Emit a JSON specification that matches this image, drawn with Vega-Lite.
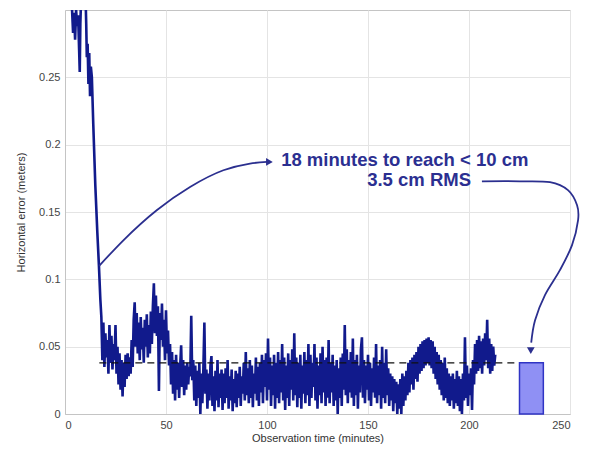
{
  "$schema": "https://vega.github.io/schema/vega-lite/v6.json",
  "autosize": "none",
  "width": 505,
  "height": 404,
  "padding": {"left": 65, "top": 10, "right": 24, "bottom": 38},
  "background": "white",
  "config": {
    "view": {"stroke": "#c4c4c4", "strokeWidth": 1},
    "font": "Liberation Sans",
    "axis": {
      "labelFont": "Liberation Sans",
      "titleFont": "Liberation Sans",
      "labelFontSize": 11,
      "titleFontSize": 11,
      "titleFontWeight": "normal",
      "labelColor": "#444444",
      "titleColor": "#333333",
      "gridColor": "#e4e4e4",
      "domainColor": "#c4c4c4",
      "ticks": false
    }
  },
  "datasets": {
    "noise": [
      {"t":3.5,"e":0.300},{"t":4,"e":0.283},{"t":4.5,"e":0.298},{"t":5,"e":0.278},{"t":5.5,"e":0.300},{"t":6,"e":0.288},{"t":6.5,"e":0.296},{"t":7,"e":0.270},{"t":7.3,"e":0.254},{"t":7.6,"e":0.290},{"t":8,"e":0.310},{"t":9,"e":0.330},{"t":10,"e":0.320},{"t":10.5,"e":0.290},{"t":10.8,"e":0.265},{"t":11.2,"e":0.275},{"t":11.6,"e":0.245},{"t":12,"e":0.268},{"t":12.4,"e":0.236},{"t":12.8,"e":0.258},{"t":13.3,"e":0.250},{"t":14,"e":0.215},{"t":15,"e":0.170},{"t":16,"e":0.135},{"t":16.8,"e":0.110},{"t":17.5,"e":0.085},
      {"t":18,"e":0.072},{"t":18.5,"e":0.040},{"t":19,"e":0.068},{"t":19.5,"e":0.035},{"t":20,"e":0.060},{"t":20.5,"e":0.042},{"t":21,"e":0.055},{"t":21.5,"e":0.030},{"t":22,"e":0.066},{"t":22.5,"e":0.038},{"t":23,"e":0.058},{"t":23.5,"e":0.033},{"t":24,"e":0.052},{"t":24.5,"e":0.040},{"t":25,"e":0.066},{"t":25.5,"e":0.030},{"t":26,"e":0.050},{"t":26.5,"e":0.022},{"t":27,"e":0.045},{"t":27.5,"e":0.018},{"t":28,"e":0.040},{"t":28.5,"e":0.013},{"t":29,"e":0.038},{"t":29.5,"e":0.020},
      {"t":30,"e":0.044},{"t":30.5,"e":0.026},{"t":31,"e":0.045},{"t":31.5,"e":0.028},{"t":32,"e":0.042},{"t":32.5,"e":0.030},{"t":33,"e":0.055},{"t":33.5,"e":0.035},{"t":34,"e":0.070},{"t":34.5,"e":0.083},{"t":35,"e":0.050},{"t":35.5,"e":0.075},{"t":36,"e":0.045},{"t":36.5,"e":0.068},{"t":37,"e":0.040},{"t":37.5,"e":0.072},{"t":38,"e":0.048},{"t":38.5,"e":0.064},{"t":39,"e":0.038},{"t":39.5,"e":0.070},
      {"t":40,"e":0.050},{"t":40.5,"e":0.074},{"t":41,"e":0.042},{"t":41.5,"e":0.066},{"t":42,"e":0.045},{"t":42.5,"e":0.076},{"t":43,"e":0.052},{"t":43.5,"e":0.080},{"t":44,"e":0.097},{"t":44.5,"e":0.060},{"t":45,"e":0.088},{"t":45.5,"e":0.058},{"t":46,"e":0.080},{"t":46.5,"e":0.017},{"t":47,"e":0.075},{"t":47.5,"e":0.055},{"t":48,"e":0.082},{"t":48.5,"e":0.050},{"t":49,"e":0.070},{"t":49.5,"e":0.040},
      {"t":50,"e":0.077},{"t":50.5,"e":0.045},{"t":51,"e":0.062},{"t":51.5,"e":0.036},{"t":52,"e":0.052},{"t":52.5,"e":0.022},{"t":53,"e":0.046},{"t":53.5,"e":0.015},{"t":54,"e":0.040},{"t":54.5,"e":0.010},{"t":55,"e":0.044},{"t":55.5,"e":0.018},{"t":56,"e":0.038},{"t":56.5,"e":0.012},{"t":57,"e":0.035},{"t":57.5,"e":0.051},{"t":58,"e":0.020},{"t":58.5,"e":0.040},{"t":59,"e":0.014},{"t":59.5,"e":0.036},
      {"t":60,"e":0.018},{"t":60.5,"e":0.038},{"t":61,"e":0.022},{"t":61.5,"e":0.035},{"t":62,"e":0.028},{"t":62.5,"e":0.073},{"t":63,"e":0.025},{"t":63.5,"e":0.040},{"t":64,"e":0.010},{"t":64.5,"e":0.036},{"t":65,"e":0.006},{"t":65.5,"e":0.032},{"t":66,"e":0.012},{"t":66.5,"e":0.038},{"t":67,"e":0.000},{"t":67.5,"e":0.030},{"t":68,"e":0.008},{"t":68.5,"e":0.034},{"t":69,"e":0.068},{"t":69.5,"e":0.015},
      {"t":70,"e":0.033},{"t":70.5,"e":0.004},{"t":71,"e":0.030},{"t":71.5,"e":0.010},{"t":72,"e":0.036},{"t":72.5,"e":0.043},{"t":73,"e":0.006},{"t":73.5,"e":0.028},{"t":74,"e":0.002},{"t":74.5,"e":0.032},{"t":75,"e":0.010},{"t":75.5,"e":0.040},{"t":76,"e":0.005},{"t":76.5,"e":0.030},{"t":77,"e":0.012},{"t":77.5,"e":0.033},{"t":78,"e":0.003},{"t":78.5,"e":0.030},{"t":79,"e":0.008},{"t":79.5,"e":0.034},
      {"t":80,"e":0.012},{"t":80.5,"e":0.040},{"t":81,"e":0.004},{"t":81.5,"e":0.028},{"t":82,"e":0.010},{"t":82.5,"e":0.033},{"t":83,"e":0.002},{"t":83.5,"e":0.026},{"t":84,"e":0.008},{"t":84.5,"e":0.032},{"t":85,"e":0.005},{"t":85.5,"e":0.030},{"t":86,"e":0.012},{"t":86.5,"e":0.035},{"t":87,"e":0.006},{"t":87.5,"e":0.028},{"t":88,"e":0.015},{"t":88.5,"e":0.038},{"t":89,"e":0.010},{"t":89.5,"e":0.046},
      {"t":90,"e":0.014},{"t":90.5,"e":0.034},{"t":91,"e":0.008},{"t":91.5,"e":0.040},{"t":92,"e":0.012},{"t":92.5,"e":0.036},{"t":93,"e":0.005},{"t":93.5,"e":0.030},{"t":94,"e":0.015},{"t":94.5,"e":0.042},{"t":95,"e":0.010},{"t":95.5,"e":0.035},{"t":96,"e":0.006},{"t":96.5,"e":0.038},{"t":97,"e":0.016},{"t":97.5,"e":0.044},{"t":98,"e":0.008},{"t":98.5,"e":0.040},{"t":99,"e":0.020},{"t":99.5,"e":0.045},
      {"t":100,"e":0.010},{"t":100.5,"e":0.056},{"t":101,"e":0.018},{"t":101.5,"e":0.042},{"t":102,"e":0.006},{"t":102.5,"e":0.036},{"t":103,"e":0.014},{"t":103.5,"e":0.044},{"t":104,"e":0.004},{"t":104.5,"e":0.038},{"t":105,"e":0.012},{"t":105.5,"e":0.046},{"t":106,"e":0.008},{"t":106.5,"e":0.040},{"t":107,"e":0.016},{"t":107.5,"e":0.052},{"t":108,"e":0.010},{"t":108.5,"e":0.042},{"t":109,"e":0.003},{"t":109.5,"e":0.036},
      {"t":110,"e":0.012},{"t":110.5,"e":0.045},{"t":111,"e":0.006},{"t":111.5,"e":0.040},{"t":112,"e":0.018},{"t":112.5,"e":0.048},{"t":113,"e":0.010},{"t":113.5,"e":0.060},{"t":114,"e":0.014},{"t":114.5,"e":0.042},{"t":115,"e":0.005},{"t":115.5,"e":0.038},{"t":116,"e":0.012},{"t":116.5,"e":0.044},{"t":117,"e":0.004},{"t":117.5,"e":0.036},{"t":118,"e":0.015},{"t":118.5,"e":0.046},{"t":119,"e":0.008},{"t":119.5,"e":0.040},
      {"t":120,"e":0.014},{"t":120.5,"e":0.052},{"t":121,"e":0.006},{"t":121.5,"e":0.044},{"t":122,"e":0.012},{"t":122.5,"e":0.038},{"t":123,"e":0.020},{"t":123.5,"e":0.052},{"t":124,"e":0.010},{"t":124.5,"e":0.042},{"t":125,"e":0.004},{"t":125.5,"e":0.036},{"t":126,"e":0.014},{"t":126.5,"e":0.045},{"t":127,"e":0.008},{"t":127.5,"e":0.050},{"t":128,"e":0.016},{"t":128.5,"e":0.040},{"t":129,"e":0.006},{"t":129.5,"e":0.042},
      {"t":130,"e":0.012},{"t":130.5,"e":0.055},{"t":131,"e":0.008},{"t":131.5,"e":0.038},{"t":132,"e":0.016},{"t":132.5,"e":0.044},{"t":133,"e":0.006},{"t":133.5,"e":0.036},{"t":134,"e":0.010},{"t":134.5,"e":0.040},{"t":135,"e":0.000},{"t":135.5,"e":0.034},{"t":136,"e":0.012},{"t":136.5,"e":0.042},{"t":137,"e":0.006},{"t":137.5,"e":0.045},{"t":138,"e":0.018},{"t":138.5,"e":0.066},{"t":139,"e":0.014},{"t":139.5,"e":0.048},
      {"t":140,"e":0.008},{"t":140.5,"e":0.040},{"t":141,"e":0.016},{"t":141.5,"e":0.046},{"t":142,"e":0.012},{"t":142.5,"e":0.056},{"t":143,"e":0.006},{"t":143.5,"e":0.040},{"t":144,"e":0.014},{"t":144.5,"e":0.044},{"t":145,"e":0.004},{"t":145.5,"e":0.036},{"t":146,"e":0.016},{"t":146.5,"e":0.048},{"t":147,"e":0.057},{"t":147.5,"e":0.012},{"t":148,"e":0.040},{"t":148.5,"e":0.008},{"t":149,"e":0.036},{"t":149.5,"e":0.018},
      {"t":150,"e":0.044},{"t":150.5,"e":0.010},{"t":151,"e":0.038},{"t":151.5,"e":0.006},{"t":152,"e":0.034},{"t":152.5,"e":0.016},{"t":153,"e":0.042},{"t":153.5,"e":0.012},{"t":154,"e":0.052},{"t":154.5,"e":0.008},{"t":155,"e":0.036},{"t":155.5,"e":0.014},{"t":156,"e":0.040},{"t":156.5,"e":0.004},{"t":157,"e":0.050},{"t":157.5,"e":0.012},{"t":158,"e":0.038},{"t":158.5,"e":0.008},{"t":159,"e":0.048},{"t":159.5,"e":0.014},
      {"t":160,"e":0.034},{"t":160.5,"e":0.006},{"t":161,"e":0.030},{"t":161.5,"e":0.010},{"t":162,"e":0.028},{"t":162.5,"e":0.002},{"t":163,"e":0.026},{"t":163.5,"e":0.008},{"t":164,"e":0.024},{"t":164.5,"e":0.000},{"t":165,"e":0.022},{"t":165.5,"e":0.004},{"t":166,"e":0.026},{"t":166.5,"e":0.000},{"t":167,"e":0.030},{"t":167.5,"e":0.006},{"t":168,"e":0.028},{"t":168.5,"e":0.010},{"t":169,"e":0.032},{"t":169.5,"e":0.014},
      {"t":170,"e":0.038},{"t":170.5,"e":0.016},{"t":171,"e":0.040},{"t":171.5,"e":0.022},{"t":172,"e":0.042},{"t":172.5,"e":0.018},{"t":173,"e":0.044},{"t":173.5,"e":0.026},{"t":174,"e":0.046},{"t":174.5,"e":0.024},{"t":175,"e":0.050},{"t":175.5,"e":0.030},{"t":176,"e":0.052},{"t":176.5,"e":0.032},{"t":177,"e":0.054},{"t":177.5,"e":0.034},{"t":178,"e":0.055},{"t":178.5,"e":0.036},{"t":179,"e":0.056},{"t":179.5,"e":0.038},
      {"t":180,"e":0.057},{"t":180.5,"e":0.036},{"t":181,"e":0.055},{"t":181.5,"e":0.034},{"t":182,"e":0.054},{"t":182.5,"e":0.030},{"t":183,"e":0.050},{"t":183.5,"e":0.026},{"t":184,"e":0.046},{"t":184.5,"e":0.022},{"t":185,"e":0.044},{"t":185.5,"e":0.018},{"t":186,"e":0.040},{"t":186.5,"e":0.014},{"t":187,"e":0.038},{"t":187.5,"e":0.010},{"t":188,"e":0.042},{"t":188.5,"e":0.012},{"t":189,"e":0.034},{"t":189.5,"e":0.008},
      {"t":190,"e":0.030},{"t":190.5,"e":0.006},{"t":191,"e":0.028},{"t":191.5,"e":0.010},{"t":192,"e":0.030},{"t":192.5,"e":0.004},{"t":193,"e":0.026},{"t":193.5,"e":0.008},{"t":194,"e":0.032},{"t":194.5,"e":0.006},{"t":195,"e":0.028},{"t":195.5,"e":0.002},{"t":196,"e":0.026},{"t":196.5,"e":0.000},{"t":197,"e":0.030},{"t":197.5,"e":0.010},{"t":198,"e":0.057},{"t":198.5,"e":0.012},{"t":199,"e":0.036},{"t":199.5,"e":0.006},
      {"t":200,"e":0.030},{"t":200.5,"e":0.014},{"t":201,"e":0.034},{"t":201.5,"e":0.003},{"t":202,"e":0.040},{"t":202.5,"e":0.022},{"t":203,"e":0.052},{"t":203.5,"e":0.030},{"t":204,"e":0.055},{"t":204.5,"e":0.032},{"t":205,"e":0.058},{"t":205.5,"e":0.034},{"t":206,"e":0.054},{"t":206.5,"e":0.030},{"t":207,"e":0.056},{"t":207.5,"e":0.036},{"t":208,"e":0.060},{"t":208.5,"e":0.040},{"t":209,"e":0.070},{"t":209.5,"e":0.034},
      {"t":210,"e":0.056},{"t":210.5,"e":0.030},{"t":211,"e":0.052},{"t":211.5,"e":0.032},{"t":212,"e":0.050},{"t":212.5,"e":0.036},{"t":213,"e":0.044}
    ],
    "rms": [{"t":17,"e":0.038},{"t":224,"e":0.038}],
    "bar": [{"t":225,"t2":236.8,"e":0.038}],
    "arrow1": [
      {"i":1,"t":16.9,"e":0.1100},{"i":2,"t":28.9,"e":0.1290},{"i":3,"t":45.4,"e":0.1513},{"i":4,"t":61.9,"e":0.1686},{"i":5,"t":78.4,"e":0.1810},{"i":6,"t":91.6,"e":0.1860},{"i":7,"t":100,"e":0.1872}
    ],
    "arrow2": [
      {"i":1,"t":206.4,"e":0.1728},{"i":2,"t":225.2,"e":0.1728},{"i":3,"t":240.1,"e":0.1721},{"i":4,"t":249.0,"e":0.1662},{"i":5,"t":253.5,"e":0.1550},{"i":6,"t":254.0,"e":0.1440},{"i":7,"t":251.0,"e":0.1254},{"i":8,"t":245.0,"e":0.1068},{"i":9,"t":237.6,"e":0.0883},{"i":10,"t":232.7,"e":0.0697},{"i":11,"t":230.8,"e":0.0530}
    ],
    "heads": [
      {"t":101.2,"e":0.1872,"shape":"triangle-right"},
      {"t":230.6,"e":0.0470,"shape":"triangle-down"}
    ],
    "label1": [{"t":107,"e":0.1884,"label":"18 minutes to reach < 10 cm"}],
    "label2": [{"t":201,"e":0.1736,"label":"3.5 cm RMS"}]
  },
  "layer": [
    {
      "data": {"name": "noise"},
      "mark": {"type": "line", "color": "#111a8c", "strokeWidth": 2.6, "clip": true},
      "encoding": {
        "x": {
          "field": "t", "type": "quantitative",
          "scale": {"domain": [0, 250], "nice": false, "zero": false},
          "axis": {"values": [0, 50, 100, 150, 200, 250], "format": "d", "title": "Observation time (minutes)", "labelPadding": 5, "titlePadding": 2, "grid": true}
        },
        "y": {
          "field": "e", "type": "quantitative",
          "scale": {"domain": [0, 0.3], "nice": false, "zero": false},
          "axis": {"values": [0, 0.05, 0.1, 0.15, 0.2, 0.25], "format": "~g", "title": "Horizontal error (meters)", "labelPadding": 5, "titlePadding": 12, "grid": true}
        }
      }
    },
    {
      "data": {"name": "rms"},
      "mark": {"type": "line", "color": "#111111", "strokeWidth": 1.4, "strokeDash": [7, 5]},
      "encoding": {
        "x": {"field": "t", "type": "quantitative"},
        "y": {"field": "e", "type": "quantitative"}
      }
    },
    {
      "data": {"name": "bar"},
      "mark": {"type": "rect", "fill": "#8f90f4", "stroke": "#3034c4", "strokeWidth": 1.5},
      "encoding": {
        "x": {"field": "t", "type": "quantitative"},
        "x2": {"field": "t2"},
        "y": {"field": "e", "type": "quantitative"},
        "y2": {"datum": 0}
      }
    },
    {
      "data": {"name": "arrow1"},
      "mark": {"type": "line", "color": "#2b2f8f", "strokeWidth": 1.8, "interpolate": "monotone"},
      "encoding": {
        "x": {"field": "t", "type": "quantitative"},
        "y": {"field": "e", "type": "quantitative"},
        "order": {"field": "i", "type": "quantitative"}
      }
    },
    {
      "data": {"name": "arrow2"},
      "mark": {"type": "line", "color": "#2b2f8f", "strokeWidth": 1.8, "interpolate": "cardinal", "clip": false},
      "encoding": {
        "x": {"field": "t", "type": "quantitative"},
        "y": {"field": "e", "type": "quantitative"},
        "order": {"field": "i", "type": "quantitative"}
      }
    },
    {
      "data": {"name": "heads"},
      "mark": {"type": "point", "filled": true, "color": "#2b2f8f", "size": 60, "opacity": 1},
      "encoding": {
        "x": {"field": "t", "type": "quantitative"},
        "y": {"field": "e", "type": "quantitative"},
        "shape": {"field": "shape", "type": "nominal", "scale": null}
      }
    },
    {
      "data": {"name": "label1"},
      "mark": {"type": "text", "font": "Liberation Sans", "fontSize": 18.5, "fontWeight": "bold", "color": "#2b2f91", "baseline": "middle", "align": "left"},
      "encoding": {
        "x": {"field": "t", "type": "quantitative"},
        "y": {"field": "e", "type": "quantitative"},
        "text": {"field": "label"}
      }
    },
    {
      "data": {"name": "label2"},
      "mark": {"type": "text", "font": "Liberation Sans", "fontSize": 18.5, "fontWeight": "bold", "color": "#2b2f91", "baseline": "middle", "align": "right"},
      "encoding": {
        "x": {"field": "t", "type": "quantitative"},
        "y": {"field": "e", "type": "quantitative"},
        "text": {"field": "label"}
      }
    }
  ]
}
